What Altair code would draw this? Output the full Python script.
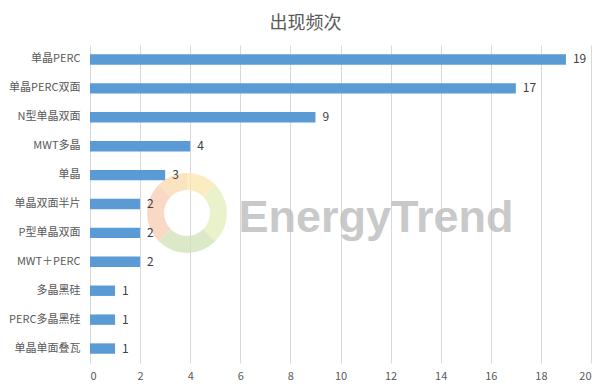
import altair as alt
import pandas as pd

categories = ["单晶PERC", "单晶PERC双面", "N型单晶双面", "MWT多晶", "单晶",
              "单晶双面半片", "P型单晶双面", "MWT＋PERC", "多晶黑硅",
              "PERC多晶黑硅", "单晶单面叠瓦"]
counts = [19, 17, 9, 4, 3, 2, 2, 2, 1, 1, 1]
x_ticks = list(range(0, 21, 2))
title_text = "出现频次"
watermark = ["EnergyTrend"]
ring_parts = [45, 90, 90, 90, 45]
ring_colors = ["#fbe6ad", "#e3edb9", "#cfe2b5", "#f7cbb3", "#f9d9ae"]

df = pd.DataFrame({"cat": categories, "n": counts})
wm = pd.DataFrame({"t": watermark})
ring = pd.DataFrame({"v": ring_parts, "c": ring_colors, "o": list(range(len(ring_parts)))})

W, H = 501, 318
FONT = "Noto Sans CJK SC"

y_enc = alt.Y("cat:N", sort=categories, title=None,
              scale=alt.Scale(paddingInner=0.64, paddingOuter=0.32),
              axis=alt.Axis(ticks=False, domain=False, labelPadding=10,
                            labelFontSize=11, labelColor="#595959",
                            labelFont=FONT, grid=False, labelLimit=0))
x_enc = alt.X("n:Q", title=None, scale=alt.Scale(domain=[0, 20], nice=False),
              axis=alt.Axis(values=x_ticks, ticks=False, domain=False, grid=True,
                            gridColor="#d9d9d9", labelPadding=7, labelFontSize=11,
                            labelColor="#595959", labelFont=FONT))

ring_layer = alt.Chart(ring).mark_arc(radius=40, radius2=23, opacity=0.75).encode(
    theta=alt.Theta("v:Q", stack=True),
    order=alt.Order("o:Q"),
    color=alt.Color("c:N", scale=None),
    x=alt.value(97), y=alt.value(168))

wm_layer = alt.Chart(wm).mark_text(fontSize=45, font="Liberation Sans",
                                   fontWeight="bold", color="#bcbcbc",
                                   opacity=0.8).encode(
    text="t:N", x=alt.value(286), y=alt.value(173))

bars = alt.Chart(df).mark_bar(color="#5B9BD5").encode(x=x_enc, y=y_enc)

labels = alt.Chart(df).mark_text(align="left", dx=7, fontSize=12,
                                 color="#404040", font=FONT).encode(
    x="n:Q", y=alt.Y("cat:N", sort=categories), text="n:Q")

chart = alt.layer(ring_layer, wm_layer, bars, labels).resolve_scale(
    color="independent"
).properties(
    width=W, height=H,
    autosize=alt.AutoSizeParams(type="none"),
    padding={"left": 82, "top": 37, "right": 12, "bottom": 19},
    background="white",
    title=alt.TitleParams(title_text, fontSize=18, color="#595959", font=FONT,
                          fontWeight="normal", dx=-35, offset=12, anchor="middle"),
).configure_view(stroke=None)

chart.save("out.html", embed_options={"renderer": "svg", "actions": False})
